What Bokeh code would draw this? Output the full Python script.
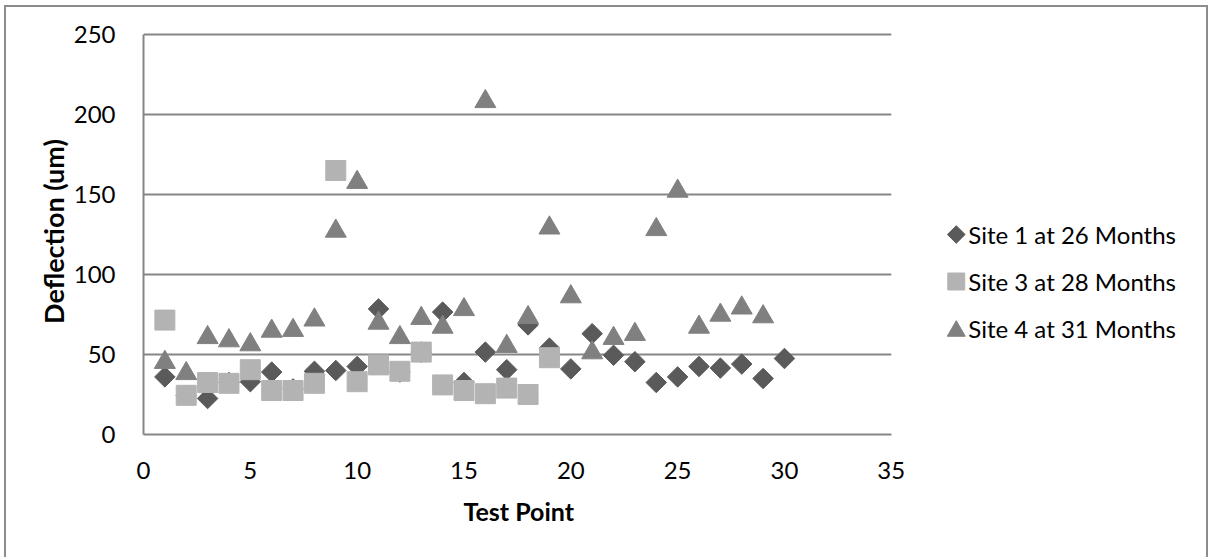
from bokeh.plotting import figure
from bokeh.models import Range1d, FixedTicker, ColumnDataSource, Title
from bokeh.core.properties import value
from bokeh.transform import dodge
from bokeh.embed import file_html
from bokeh.resources import INLINE
import math

# ---- data ----
test_points_1 = list(range(1, 31))
site1 = [36, 24.5, 22.5, 32.5, 33, 39, 28.5, 39.5, 40, 42.5, 78.5, 39, 51.5, 76.5, 32.5,
         51.5, 40.5, 68.5, 54, 41, 63, 49.5, 45.5, 32.5, 36, 42.5, 41.5, 44, 35, 47.5]
test_points_3 = list(range(1, 20))
site3 = [71.5, 24.5, 32.5, 32, 40.5, 27.5, 27.5, 32, 165, 33, 43.5, 39.5, 51.5, 31, 27.5,
         25.5, 29, 25, 48]
test_points_4 = list(range(1, 30))
site4 = [47, 40, 62.5, 60.5, 58, 66.5, 67, 73.5, 129, 159.5, 71.5, 62.5, 74.5, 69, 80,
         210, 57, 75, 131, 88, 53, 62, 64.5, 130, 154, 69, 76.5, 81, 75.5]
series_names = ["Site 1 at 26 Months", "Site 3 at 28 Months", "Site 4 at 31 Months"]
x_ticks = [0, 5, 10, 15, 20, 25, 30, 35]
y_ticks = [0, 50, 100, 150, 200, 250]
x_title = "Test Point"
y_title = "Deflection (um)"

FONT = "Lato"
GRID = "#868686"
C1, C3, C4 = "#5a5a5a", "#b3b3b3", "#808080"

# frame extends right of the x axis to host the legend (axis/grid are bounded to 0..35)
X_END = 49.8
Y_END = 253.75

p = figure(width=1204, height=552, output_backend="svg", toolbar_location=None,
           x_range=Range1d(x_ticks[0], X_END), y_range=Range1d(y_ticks[0], Y_END),
           min_border_left=137, min_border_right=3, min_border_top=21, min_border_bottom=125)
p.styles = {"border-top": "2px solid #8c8c8c", "border-left": "2px solid #8c8c8c",
            "border-right": "2px solid #8c8c8c", "margin-left": "4px", "margin-top": "5px"}
p.outline_line_color = None
p.background_fill_color = "white"
p.border_fill_color = "white"
p.xgrid.grid_line_color = None
p.ygrid.grid_line_color = None

# horizontal gridlines limited to the axis extent
p.segment(x0=x_ticks[0], x1=x_ticks[-1], y0=y_ticks[1:], y1=y_ticks[1:],
          line_color=GRID, line_width=2)

s1 = ColumnDataSource(dict(x=test_points_1, y=site1))
s3 = ColumnDataSource(dict(x=test_points_3, y=site3))
s4 = ColumnDataSource(dict(x=test_points_4, y=site4))

p.scatter("x", "y", source=s1, marker="square", angle=math.pi / 4, size=14.5,
          fill_color=C1, line_color=C1)
p.scatter("x", "y", source=s3, marker="square", size=20, fill_color=C3, line_color=C3)
p.scatter("x", dodge("y", -1.9, range=p.y_range), source=s4, marker="triangle", size=21,
          fill_color=C4, line_color=C4)

# axes
for ax in (p.xaxis[0], p.yaxis[0]):
    ax.axis_line_color = GRID
    ax.axis_line_width = 2
    ax.major_tick_line_color = None
    ax.minor_tick_line_color = None
    ax.major_label_text_font = FONT
    ax.major_label_text_font_size = "24px"
    ax.major_label_text_color = "black"
    ax.axis_label_text_font = FONT
    ax.axis_label_text_font_style = "bold"
    ax.axis_label_text_color = "black"

p.xaxis.ticker = FixedTicker(ticks=x_ticks)
p.yaxis.ticker = FixedTicker(ticks=y_ticks)
p.xaxis.bounds = (x_ticks[0], x_ticks[-1])
p.yaxis.bounds = (y_ticks[0], y_ticks[-1])
p.yaxis.axis_label = y_title
p.yaxis.axis_label_text_font_size = "27px"
p.xaxis.major_label_standoff = 21
p.yaxis.major_label_standoff = 22
p.yaxis.axis_label_standoff = 1

# x-axis title, centred under the bounded axis (not the wider frame)
p.add_layout(Title(text=x_title, align="left", offset=320, standoff=24,
                   text_font=FONT, text_font_style="bold", text_font_size="25px",
                   text_color="black"), "below")

# legend (drawn in the frame area right of the axis extent)
PX_X = 748 / 35.0   # px per x unit
PX_Y = 1.6          # px per y unit
leg_mark_x = (956 - 143) / PX_X
leg_text_x = (968 - 143) / PX_X
leg_rows = [(435 - 235) / PX_Y, (435 - 282) / PX_Y, (435 - 329) / PX_Y]

p.scatter([leg_mark_x], [leg_rows[0]], marker="square", angle=math.pi / 4, size=12.5,
          fill_color=C1, line_color=C1)
p.scatter([leg_mark_x], [leg_rows[1]], marker="square", size=17, fill_color=C3, line_color=C3)
leg4 = ColumnDataSource(dict(x=[leg_mark_x], y=[leg_rows[2]]))
p.scatter("x", dodge("y", -1.6, range=p.y_range), source=leg4, marker="triangle", size=18,
          fill_color=C4, line_color=C4)
p.text(x=[leg_text_x] * 3, y=leg_rows, text=series_names, text_font=value(FONT),
       text_font_size="24px", text_color="black", text_baseline="middle", text_align="left")

open("out.html", "w").write(file_html(p, INLINE))
